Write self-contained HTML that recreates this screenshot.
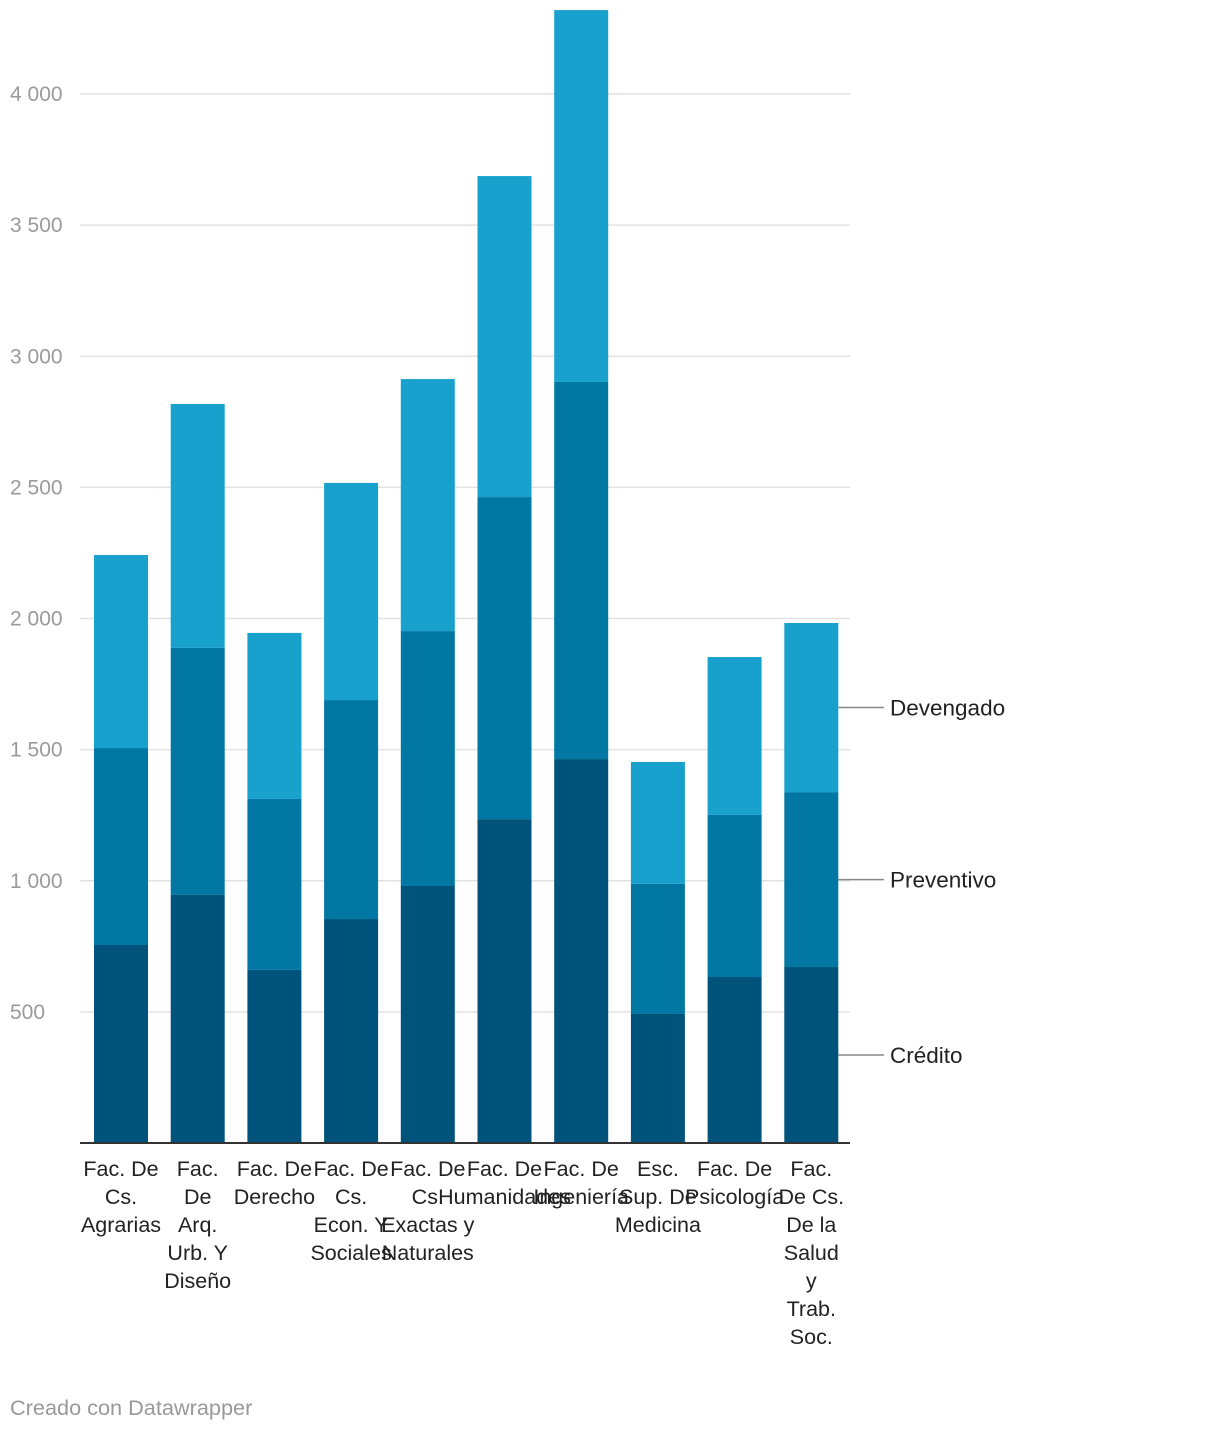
<!DOCTYPE html>
<html><head><meta charset="utf-8"><style>
body{margin:0;background:#fff;width:1220px;height:1432px;overflow:hidden;font-family:"Liberation Sans",sans-serif}
</style></head><body>
<svg width="1220" height="1432" id="chart" style="font-family:'Liberation Sans',sans-serif"></svg>
<script>
const categories=[["Fac. De","Cs.","Agrarias"],["Fac.","De","Arq.","Urb. Y","Diseño"],["Fac. De","Derecho"],["Fac. De","Cs.","Econ. Y","Sociales"],["Fac. De","Cs.","Exactas y","Naturales"],["Fac. De","Humanidades"],["Fac. De","Ingeniería"],["Esc.","Sup. De","Medicina"],["Fac. De","Psicología"],["Fac.","De Cs.","De la","Salud","y","Trab.","Soc."]];
const credito=[755,946,660,854,980,1235,1464,492,633,671];
const preventivo=[751,942,652,835,972,1228,1438,496,618,667];
const devengado=[736,930,633,828,961,1224,1418,465,602,645];
const yTicks=[500,1000,1500,2000,2500,3000,3500,4000];
const tickLabels=["500","1 000","1 500","2 000","2 500","3 000","3 500","4 000"];
const seriesNames=["Crédito","Preventivo","Devengado"];
const colors=["#00537a","#0177a3","#18a1cd"];
const svg=document.getElementById('chart');const NS="http://www.w3.org/2000/svg";
const y0=1143,k=0.26225,x0=94,step=76.7,bw=54;
const y=v=>y0-v*k;const x=i=>x0+i*step;
function mk(t,a,p){const e=document.createElementNS(NS,t);for(const q in a)e.setAttribute(q,a[q]);(p||svg).appendChild(e);return e;}
yTicks.forEach((v,i)=>{
 const g=mk('line',{x1:80,x2:850,y1:y(v),y2:y(v),stroke:'#e2e2e2','stroke-width':1.5});
 
 
 const t=mk('text',{x:10,y:y(v)+7,fill:'#9a9a9a','font-size':21});t.textContent=tickLabels[i];
 
 
});
const series=[credito,preventivo,devengado];
categories.forEach((c,i)=>{
 let base=0;
 series.forEach((s,j)=>{
  const r=mk('rect',{x:x(i),y:y(base+s[i]),width:bw,height:s[i]*k,fill:colors[j]});
  
  
  base+=s[i];
 });
 c.forEach((ln,l)=>{
  const t=mk('text',{x:x(i)+bw/2,y:1176+l*28,'text-anchor':'middle','font-size':21.5,fill:'#222'});t.textContent=ln;
  
  
 });
});
const ax=mk('line',{x1:80,x2:850,y1:y0,y2:y0,stroke:'#333','stroke-width':2});


const last=categories.length-1;let b=0;
series.forEach((s,j)=>{
 const mid=y(b+s[last]/2);b+=s[last];
 const l=mk('line',{x1:x(last)+bw,x2:884,y1:mid,y2:mid,stroke:'#888','stroke-width':1.5});
 
 
 const t=mk('text',{x:890,y:mid+8,'font-size':22.5,fill:'#222'});t.textContent=seriesNames[j];
 
 
});
const f=mk('text',{x:10,y:1415,'font-size':21.7,fill:'#999'});f.textContent="Creado con Datawrapper";


</script>
</body></html>
